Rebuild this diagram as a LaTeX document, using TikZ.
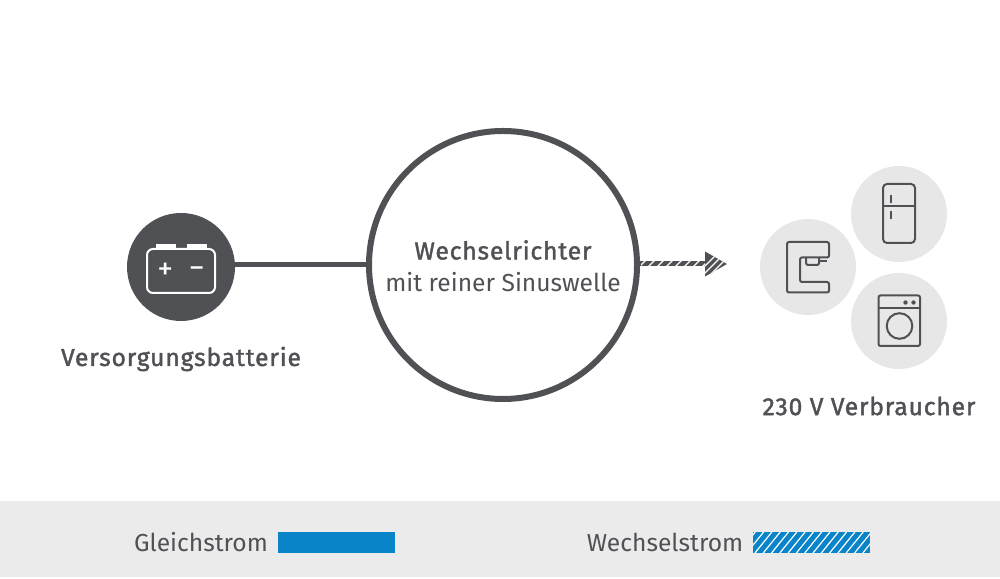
\documentclass[tikz,border=0pt]{standalone}
\usepackage{fontspec}
\setmainfont{Fira Sans}
\newfontfamily\mediumfont[FakeBold=1.6,LetterSpace=3.5]{Fira Sans}
\definecolor{darkgrey}{HTML}{4F5155}
\definecolor{lightgrey}{HTML}{E7E7E7}
\definecolor{bandgrey}{HTML}{EBEBEB}
\definecolor{currentblue}{HTML}{0A84C9}
\tikzset{
    label text/.style={text=darkgrey, inner sep=0pt, font=\fontsize{7}{8}\selectfont},
    bold text/.style={label text, font=\fontsize{7}{8}\mediumfont},
    consumer/.style={circle, fill=lightgrey, minimum size=0.96cm, inner sep=0pt},
    icon/.style={draw=darkgrey, line width=0.02cm, rounded corners=0.02cm},
    legend box/.style={fill=currentblue, minimum width=1.17cm, minimum height=0.21cm, inner sep=0pt},
    stripe/.style={color=white, line width=0.012cm},
    sign/.style={text=white, inner sep=0pt, font=\fontsize{9}{9}\fontseries{l}\selectfont}
}
\begin{document}
\begin{tikzpicture}

    \useasboundingbox (0,0) rectangle (10,5.78);

    % legend band
    \fill[bandgrey] (0,0.01) rectangle (10,0.77);
    \node[label text] (dc text) at (2.01,0.36) {Gleichstrom};
    \node[legend box] (dc box) at (3.365,0.355) {};
    \node[label text] (ac text) at (6.65,0.36) {Wechselstrom};
    \node[legend box] (ac box) at (8.115,0.355) {};
    \begin{scope}
        \clip (7.53,0.25) rectangle (8.70,0.46);
        \foreach \x in {7.30,7.383,...,8.75}
            \draw[stripe] (\x,0.25) -- ++(0.17,0.21);
    \end{scope}

    % battery
    \node[circle, fill=darkgrey, minimum size=1.08cm, inner sep=0pt, outer sep=0pt] (battery) at (1.81,3.11) {};
    \fill[white] (1.56,3.28) rectangle + (0.20,0.055);
    \fill[white] (1.87,3.28) rectangle + (0.20,0.055);
    \filldraw[color=white, fill=darkgrey, line width=0.02cm, rounded corners=0.06cm] (1.47,2.85) rectangle (2.15,3.29);
    \node[sign] (plus) at (1.653,3.07) {+};
    \node[sign] (minus) at (1.968,3.05) {−};
    \node[bold text] (battery text) at (1.81,2.19) {Versorgungsbatterie};

    % inverter
    \node[circle, draw=darkgrey, fill=white, line width=0.06cm, minimum size=2.68cm, inner sep=0pt] (inverter) at (5.03,3.13) {};
    \node[bold text] (inverter title) at (5.03,3.28) {Wechselrichter};
    \node[label text] (inverter text) at (5.03,2.96) {mit reiner Sinuswelle};
    \draw[darkgrey, line width=0.05cm] (inverter.west) -- (inverter.west -| battery.east);

    % output arrow
    \fill[darkgrey] (inverter.east) ++(0,-0.015) rectangle (7.06,3.165);
    \fill[darkgrey] (7.05,3.265) -- (7.27,3.14) -- (7.05,3.015) -- cycle;
    \begin{scope}
        \clip (6.41,3.115) rectangle (7.05,3.165);
        \foreach \x in {6.38,6.47,...,7.05}
            \draw[stripe] (\x,3.10) -- ++(0.08,0.08);
    \end{scope}
    \begin{scope}
        \clip (7.05,3.265) -- (7.27,3.14) -- (7.05,3.015) -- cycle;
        \foreach \x in {6.93,7.00,...,7.25}
            \draw[stripe] (\x,3.00) -- ++(0.28,0.28);
    \end{scope}

    % consumers
    \node[consumer] (coffee) at (8.08,3.11) {};
    \node[consumer] (fridge) at (8.99,3.64) {};
    \node[consumer] (washer) at (8.99,2.57) {};

    % coffee machine
    \draw[icon] (7.87,3.36) -- (8.29,3.36) -- (8.29,3.205) -- (8.00,3.205) -- (8.00,2.96) -- (8.29,2.96) -- (8.29,2.855) -- (7.87,2.855) -- cycle;
    \draw[icon] (8.06,3.205) -- (8.06,3.13) -- (8.19,3.13) -- (8.19,3.205);
    \draw[icon] (8.19,3.17) -- (8.27,3.17);

    % fridge
    \draw[icon, rounded corners=0.04cm] (8.83,3.35) rectangle (9.15,3.94);
    \draw[icon] (8.83,3.72) -- (9.15,3.72);
    \draw[icon] (8.91,3.83) -- (8.91,3.75);
    \draw[icon] (8.91,3.67) -- (8.91,3.59);

    % washing machine
    \draw[icon] (8.785,2.32) rectangle (9.20,2.825);
    \draw[icon] (8.785,2.70) -- (9.20,2.70);
    \fill[darkgrey] (9.055,2.755) circle (0.022);
    \fill[darkgrey] (9.135,2.755) circle (0.022);
    \draw[icon] (8.995,2.52) circle (0.128);

    \node[bold text] (consumer text) at (8.69,1.72) {230 V Verbraucher};

\end{tikzpicture}
\end{document}
